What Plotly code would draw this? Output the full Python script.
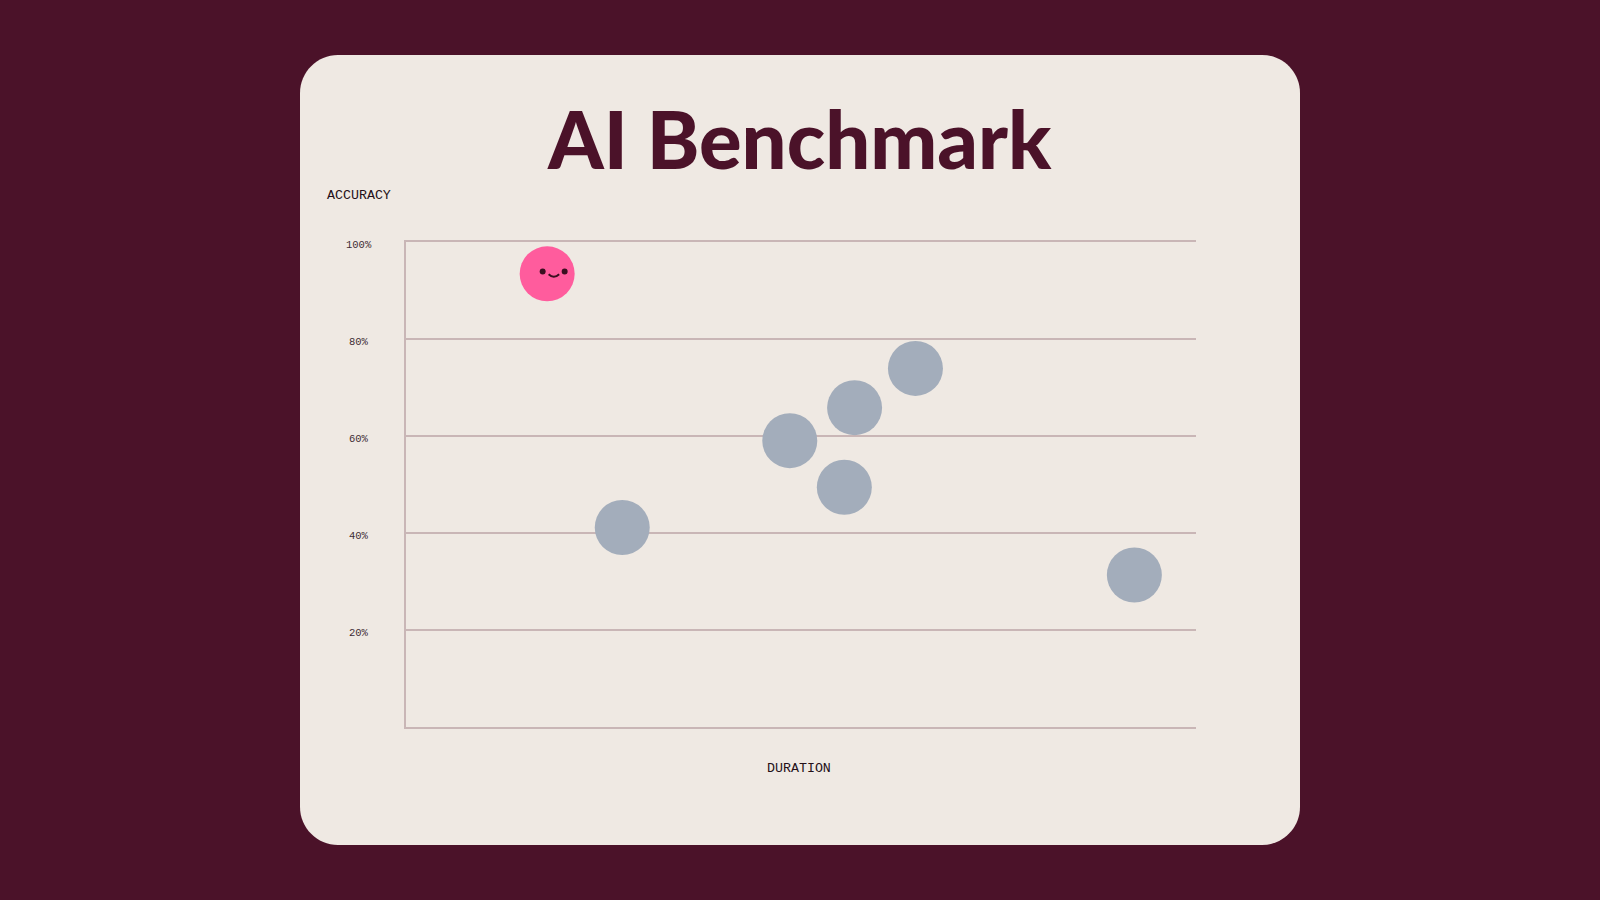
import plotly.graph_objects as go

# values, duration has no scale so it is percent of axis
duration = [27.4, 48.6, 56.8, 55.5, 64.5, 92.2]
accuracy = [41.2, 59.1, 65.9, 49.5, 74.0, 31.4]
pink_duration = [17.9]
pink_accuracy = [93.5]
y_ticks = [20, 40, 60, 80, 100]
y_labels = ["20%", "40%", "60%", "80%", "100%"]

W, H = 1600, 900
DARK = "#4b1229"
CARD = "#efe9e3"
GRID = "#c9b6b6"


def px(x):
    return x / W


def py(y):
    return 1 - y / H


def card_path(x0, y0, x1, y1, r):
    k = 0.45 * r
    return (
        f"M {px(x0 + r)} {py(y0)} L {px(x1 - r)} {py(y0)} "
        f"C {px(x1 - k)} {py(y0)} {px(x1)} {py(y0 + k)} {px(x1)} {py(y0 + r)} "
        f"L {px(x1)} {py(y1 - r)} "
        f"C {px(x1)} {py(y1 - k)} {px(x1 - k)} {py(y1)} {px(x1 - r)} {py(y1)} "
        f"L {px(x0 + r)} {py(y1)} "
        f"C {px(x0 + k)} {py(y1)} {px(x0)} {py(y1 - k)} {px(x0)} {py(y1 - r)} "
        f"L {px(x0)} {py(y0 + r)} "
        f"C {px(x0)} {py(y0 + k)} {px(x0 + k)} {py(y0)} {px(x0 + r)} {py(y0)} Z"
    )


fig = go.Figure()
fig.add_trace(go.Scatter(x=duration, y=accuracy, mode="markers",
                         marker=dict(size=55, color="#a3adbb", line=dict(width=0)),
                         hoverinfo="x+y", showlegend=False))
fig.add_trace(go.Scatter(x=pink_duration, y=pink_accuracy, mode="markers",
                         marker=dict(size=55, color="#ff5c9d", line=dict(width=0)),
                         hoverinfo="x+y", showlegend=False))

shapes = [dict(type="path", xref="paper", yref="paper", layer="below",
               path=card_path(300, 55, 1300, 845, 38),
               fillcolor=CARD, line=dict(width=0))]

# face on the pink dot, offsets in pixels from the dot centre
for dx in [-4.5, 17.5]:
    shapes.append(dict(type="circle", xref="x", yref="y", layer="above",
                       xsizemode="pixel", ysizemode="pixel",
                       xanchor=pink_duration[0], yanchor=pink_accuracy[0],
                       x0=dx - 3, x1=dx + 3, y0=-0.7, y1=5.3,
                       fillcolor="#3a0f20", line=dict(width=0)))
shapes.append(dict(type="path", xref="x", yref="y", layer="above",
                   xsizemode="pixel", ysizemode="pixel",
                   xanchor=pink_duration[0], yanchor=pink_accuracy[0],
                   path="M 1.5 -0.5 Q 6.7 -5.5 12 -0.5",
                   line=dict(color="#3a0f20", width=2)))

annotations = [
    dict(text="AI Benchmark", xref="paper", yref="paper", x=px(799.5), y=py(139),
         xanchor="center", yanchor="middle", showarrow=False,
         font=dict(family="Lato", size=79.5, weight=900, color=DARK)),
    dict(text="ACCURACY", xref="paper", yref="paper", x=px(358.5), y=py(196),
         xanchor="center", yanchor="middle", showarrow=False,
         font=dict(family="Liberation Mono", size=13.3, color="#241018")),
    dict(text="DURATION", xref="paper", yref="paper", x=px(799), y=py(768),
         xanchor="center", yanchor="middle", showarrow=False,
         font=dict(family="Liberation Mono", size=13.3, color="#241018")),
]
for t, lab in zip(y_ticks, y_labels):
    annotations.append(dict(text=lab, xref="paper", yref="y", x=px(359), y=t, yshift=-3,
                            xanchor="center", yanchor="middle", showarrow=False,
                            font=dict(family="Liberation Mono", size=10.5, color="#3d2c33")))

fig.update_layout(
    width=W, height=H,
    margin=dict(l=0, r=0, t=0, b=0),
    paper_bgcolor=DARK, plot_bgcolor="rgba(0,0,0,0)",
    shapes=shapes, annotations=annotations,
    xaxis=dict(domain=[px(405.7), px(1196)], range=[0, 100], showgrid=False, zeroline=False,
               showticklabels=False, ticks="", showline=True, mirror=True,
               linecolor=GRID, linewidth=2),
    yaxis=dict(domain=[py(727.3), py(242.3)], range=[0, 100], tickvals=y_ticks, showgrid=True,
               gridcolor=GRID, gridwidth=2, zeroline=False, showticklabels=False, ticks="",
               showline=True, linecolor=GRID, linewidth=2),
)

fig.write_html("out.html", config=dict(displayModeBar=False),
               post_script="document.body.style.margin = '0';")
